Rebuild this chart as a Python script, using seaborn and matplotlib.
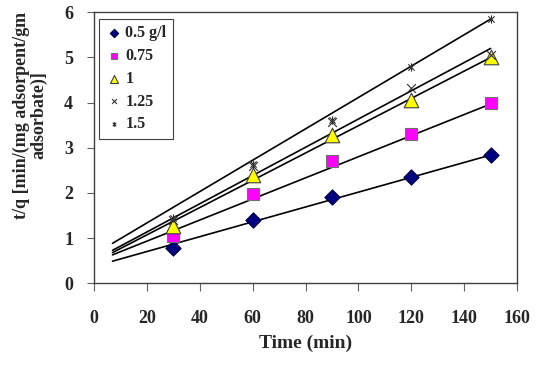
import numpy as np
import pandas as pd
import matplotlib
matplotlib.use("Agg")
import matplotlib.pyplot as plt
import seaborn as sns
from matplotlib.path import Path

# dados
tempo = [30, 60, 90, 120, 150]
series = ["0.5 g/l", "0.75", "1", "1.25", "1.5"]
tq_05 = [0.78, 1.40, 1.92, 2.35, 2.85]
tq_075 = [1.05, 1.98, 2.70, 3.30, 4.00]
tq_1 = [1.27, 2.40, 3.28, 4.05, 5.00]
tq_125 = [1.40, 2.60, 3.58, 4.32, 5.05]
tq_15 = [1.45, 2.65, 3.62, 4.78, 5.85]

# linhas de tendência (valor em t=7 e t=150)
trend_t = [7, 150]
trend_ini = [0.49, 0.63, 0.68, 0.73, 0.885]
trend_fim = [2.84, 3.97, 5.00, 5.20, 5.85]

df = pd.DataFrame({
    "tempo": tempo * 5,
    "tq": tq_05 + tq_075 + tq_1 + tq_125 + tq_15,
    "serie": [s for s in series for _ in tempo],
})

sns.set_style("white")
plt.rcParams["font.family"] = ["Liberation Serif", "DejaVu Serif"]
plt.rcParams["font.weight"] = "bold"

# marcador estrela do Excel (x + barra vertical)
M, L = Path.MOVETO, Path.LINETO
estrela = Path([(-1, -1), (1, 1), (-1, 1), (1, -1), (0, -1.3), (0, 1.3)],
               [M, L, M, L, M, L])

estilos = {
    "0.5 g/l": dict(marker="D", color="#000080", edgecolor="#000040", s=60, linewidth=0.8),
    "0.75": dict(marker="s", color="#FF00FF", edgecolor="#707070", s=75, linewidth=0.8),
    "1": dict(marker="^", color="#FFFF00", edgecolor="#404040", s=110, linewidth=0.8),
    "1.25": dict(marker="x", color="#303030", s=40, linewidth=0.8),
    "1.5": dict(marker=estrela, color="#303030", edgecolor="#303030", s=35, linewidth=0.8),
}

fig = plt.figure(figsize=(5.53, 3.81), dpi=100)
ax = fig.add_axes([0.170, 0.2564, 0.765, 0.7113])

for i, s in enumerate(series):
    ax.plot(trend_t, [trend_ini[i], trend_fim[i]], color="black", lw=1.2, zorder=2)

for s in series:
    sub = df[df["serie"] == s]
    sns.scatterplot(data=sub, x="tempo", y="tq", ax=ax, label=s, zorder=3, **estilos[s])

ax.set_xlim(0, 160)
ax.set_ylim(0, 6)
ax.set_xticks(range(0, 161, 20))
ax.set_yticks(range(0, 7))
ax.tick_params(axis="x", direction="out", length=6, width=0.8, pad=13,
               labelsize=13, color="#606060", bottom=True)
ax.tick_params(axis="y", direction="out", length=5, width=0.8, pad=10,
               labelsize=13, color="#606060", left=True)
for lab in ax.get_xticklabels() + ax.get_yticklabels():
    lab.set_fontweight("bold")

for sp in ax.spines.values():
    sp.set_visible(True)
    sp.set_linewidth(1.0)
    sp.set_color("#404040")

ax.set_xlabel("Time (min)", fontsize=14, fontweight="bold", labelpad=6)
ax.set_ylabel("t/q [min/(mg adsorpent/gm\nadsorbate)]", fontsize=13,
              fontweight="bold", linespacing=1.0, multialignment="center")
ax.yaxis.set_label_coords(-0.11, 0.62)

leg = ax.legend(loc="upper left", bbox_to_anchor=(0.012, 0.975), frameon=True,
                fancybox=False, edgecolor="#404040", framealpha=1,
                prop={"weight": "bold", "size": 11.5}, handletextpad=0.15,
                handlelength=1.1, labelspacing=0.42, borderpad=0.4,
                markerscale=0.55, borderaxespad=0)
leg.get_frame().set_linewidth(0.8)

fig.savefig("out.png", dpi=100)
